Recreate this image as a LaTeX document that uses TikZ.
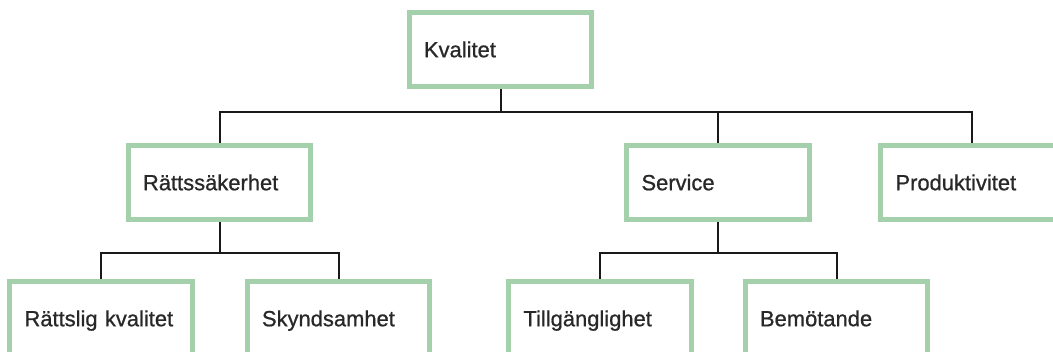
\documentclass[tikz,border=0pt]{standalone}
\usepackage{fontspec}
\setmainfont{Liberation Sans}
\newfontfamily\medfont{Liberation Sans}[FakeBold=0.8]
\definecolor{boxgreen}{RGB}{164,209,172}
\definecolor{textgray}{RGB}{40,40,40}
\tikzset{
  box/.style={draw=boxgreen, line width=0.125cm, fill=white,
    minimum width=4.55cm, minimum height=1.85cm, inner xsep=0.3625cm,
    text width=3.825cm, align=left, text=textgray,
    font=\medfont\fontsize{15.6}{18}\selectfont,
    execute at begin node=\rule[-4pt]{0pt}{19pt}},
  link/.style={line width=0.05cm, black!90}
}
\begin{document}
\begin{tikzpicture}[x=0.025cm, y=-0.025cm]
 \useasboundingbox (0,0) rectangle (1053,351);
 \clip (0,0) rectangle (1053,351);
 % top level
 \node[box] (kvalitet) at (500.5,49.5) {Kvalitet};
 % second level
 \node[box] (rattssak) at (219.5,182.5) {Rättssäkerhet};
 \node[box] (service) at (718,182.5) {Service};
 \node[box] (produkt) at (972,182.5) {Produktivitet};
 % third level
 \node[box] (rattslig) at (101,318.5) {Rättslig kvalitet};
 \node[box] (skynd) at (338.5,318.5) {Skyndsamhet};
 \node[box] (tillgang) at (600,318.5) {Tillgänglighet};
 \node[box] (bemot) at (836.5,318.5) {Bemötande};
 % connectors
 \draw[link] (kvalitet.south) -- ++(0,23) coordinate (bus1);
 \draw[link] (rattssak.north) |- (bus1) -| (produkt.north);
 \draw[link] (service.north) -- (service.north |- bus1);
 \draw[link] (rattssak.south) -- ++(0,30.5) coordinate (bus2);
 \draw[link] (rattslig.north) |- (bus2) -| (skynd.north);
 \draw[link] (service.south) -- ++(0,30.5) coordinate (bus3);
 \draw[link] (tillgang.north) |- (bus3) -| (bemot.north);
\end{tikzpicture}
\end{document}
